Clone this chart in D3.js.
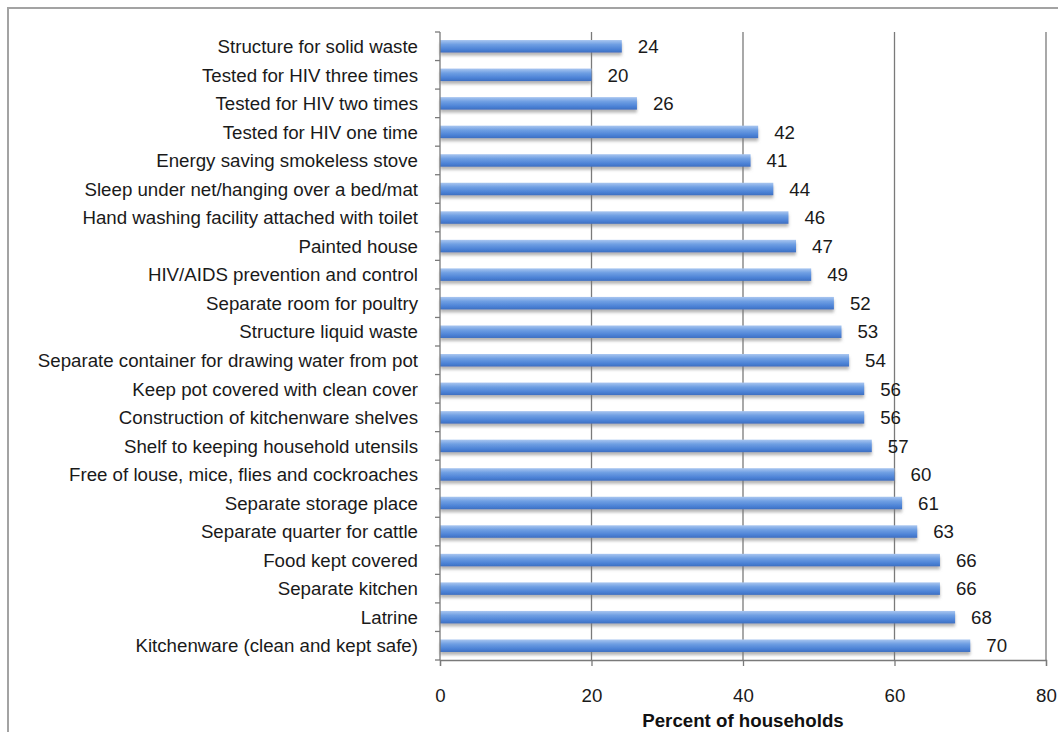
<!DOCTYPE html>
<html>
<head>
<meta charset="utf-8">
<script src="https://cdn.jsdelivr.net/npm/d3@7"></script>
<style>
  html, body { margin: 0; padding: 0; background: #fff; }
  svg { display: block; font-family: "Liberation Sans", Arial, Helvetica, sans-serif; }
</style>
</head>
<body>
<svg id="chart" width="1058" height="732"></svg>
<script>
// Household practices, top to bottom as listed
const categories = [
  "Structure for solid waste",
  "Tested for HIV three times",
  "Tested for HIV two times",
  "Tested for HIV one time",
  "Energy saving smokeless stove",
  "Sleep under net/hanging over a bed/mat",
  "Hand washing facility attached with toilet",
  "Painted house",
  "HIV/AIDS prevention and control",
  "Separate room for poultry",
  "Structure liquid waste",
  "Separate container for drawing water from pot",
  "Keep pot covered with clean cover",
  "Construction of kitchenware shelves",
  "Shelf to keeping household utensils",
  "Free of louse, mice, flies and cockroaches",
  "Separate storage place",
  "Separate quarter for cattle",
  "Food kept covered",
  "Separate kitchen",
  "Latrine",
  "Kitchenware (clean and kept safe)"
];
const percents = [24, 20, 26, 42, 41, 44, 46, 47, 49, 52, 53, 54, 56, 56, 57, 60, 61, 63, 66, 66, 68, 70];
const xTicks = [0, 20, 40, 60, 80];
const xTitle = "Percent of households";

const svg = d3.select("#chart");
const margin = { left: 440, right: 1046, top: 32, bottom: 660 };
const fontSize = 18.7;

// outer frame
svg.append("rect")
  .attr("x", 8).attr("y", 8)
  .attr("width", 1060).attr("height", 740)
  .attr("fill", "none").attr("stroke", "#a3a3a3").attr("stroke-width", 2);

const x = d3.scaleLinear().domain([0, 80]).range([margin.left, margin.right]);
const y = d3.scaleBand().domain(categories).range([margin.top, margin.bottom]);

const defs = svg.append("defs");
const grad = defs.append("linearGradient")
  .attr("id", "barFill").attr("x1", 0).attr("y1", 0).attr("x2", 0).attr("y2", 1);
grad.append("stop").attr("offset", "0%").attr("stop-color", "#a9c6f0");
grad.append("stop").attr("offset", "35%").attr("stop-color", "#6f9fe3");
grad.append("stop").attr("offset", "75%").attr("stop-color", "#4c82d6");
grad.append("stop").attr("offset", "100%").attr("stop-color", "#3d6fc1");

const shadow = defs.append("filter").attr("id", "barShadow")
  .attr("x", "-5%").attr("y", "-50%").attr("width", "110%").attr("height", "220%");
shadow.append("feDropShadow")
  .attr("dx", 0).attr("dy", 3).attr("stdDeviation", 1.4)
  .attr("flood-color", "#777").attr("flood-opacity", 0.55);

// vertical gridlines
svg.append("g").selectAll("line")
  .data(xTicks.filter(d => d > 0))
  .join("line")
  .attr("x1", d => x(d)).attr("x2", d => x(d))
  .attr("y1", margin.top).attr("y2", margin.bottom)
  .attr("stroke", "#7a7a7a").attr("stroke-width", 1.3);

// bars
const barH = 12.5;
svg.append("g").selectAll("rect")
  .data(categories)
  .join("rect")
  .attr("x", x(0))
  .attr("y", d => y(d) + y.bandwidth() / 2 - barH / 2)
  .attr("width", (d, i) => x(percents[i]) - x(0))
  .attr("height", barH)
  .attr("fill", "url(#barFill)")
  .attr("filter", "url(#barShadow)");

// value labels
svg.append("g").selectAll("text")
  .data(categories)
  .join("text")
  .attr("x", (d, i) => x(percents[i]) + 16)
  .attr("y", d => y(d) + y.bandwidth() / 2)
  .attr("dy", "0.36em")
  .attr("font-size", fontSize)
  .attr("fill", "#1a1a1a")
  .text((d, i) => percents[i]);

// y axis with ticks at category boundaries
const yAxisG = svg.append("g");
yAxisG.append("line")
  .attr("x1", margin.left).attr("x2", margin.left)
  .attr("y1", margin.top).attr("y2", margin.bottom)
  .attr("stroke", "#7a7a7a").attr("stroke-width", 1.3);
const bounds = categories.map(c => y(c)).concat([margin.bottom]);
yAxisG.selectAll("line.tick")
  .data(bounds)
  .join("line").attr("class", "tick")
  .attr("x1", margin.left - 5).attr("x2", margin.left)
  .attr("y1", d => d).attr("y2", d => d)
  .attr("stroke", "#7a7a7a").attr("stroke-width", 1.3);
yAxisG.selectAll("text")
  .data(categories)
  .join("text")
  .attr("x", margin.left - 22)
  .attr("y", d => y(d) + y.bandwidth() / 2)
  .attr("dy", "0.36em")
  .attr("text-anchor", "end")
  .attr("font-size", fontSize)
  .attr("fill", "#1a1a1a")
  .text(d => d);

// x axis
const xAxis = d3.axisBottom(x).tickValues(xTicks).tickSize(6).tickPadding(23);
const xg = svg.append("g")
  .attr("transform", `translate(0,${margin.bottom})`)
  .call(xAxis);
xg.select(".domain").attr("stroke", "#7a7a7a").attr("stroke-width", 1.3);
xg.selectAll(".tick line").attr("stroke", "#7a7a7a").attr("stroke-width", 1.3);
xg.selectAll(".tick text")
  .attr("font-size", fontSize)
  .attr("fill", "#1a1a1a")
  .attr("font-family", "Liberation Sans, Arial, sans-serif");

svg.append("text")
  .attr("x", (margin.left + margin.right) / 2)
  .attr("y", 727)
  .attr("text-anchor", "middle")
  .attr("font-size", fontSize)
  .attr("font-weight", "bold")
  .attr("fill", "#111")
  .text(xTitle);
</script>
</body>
</html>
